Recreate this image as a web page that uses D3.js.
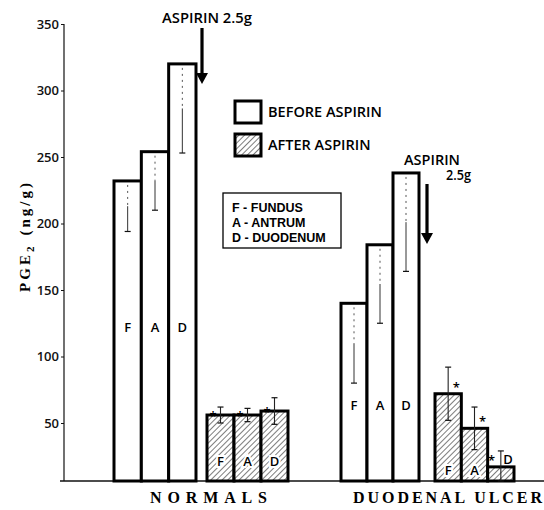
<!DOCTYPE html>
<html lang="en">
<head>
    <meta charset="UTF-8">
    <title>PGE2 before and after aspirin</title>
    <script src="https://d3js.org/d3.v7.min.js"></script>
    <style>
        body { margin: 0; background: #fff; }
        .sans { font-family: "Open Sans", sans-serif; font-weight: 600; }
        .serif { font-family: "Liberation Serif", serif; font-weight: bold; }
    </style>
</head>
<body>
    <svg width="544" height="510"></svg>
    <script>
        // Data
        const groups = ["NORMALS", "DUODENAL ULCER"];
        const sites = ["F", "A", "D"];
        const normalsBefore = [232, 254, 320];
        const normalsBeforeSD = [38, 44, 67];
        const normalsAfter = [56, 56, 59];
        const normalsAfterSD = [6, 5, 10];
        const ulcerBefore = [140, 184, 238];
        const ulcerBeforeSD = [60, 59, 74];
        const ulcerAfter = [72, 46, 17];
        const ulcerAfterSD = [20, 16, 12];
        const yTicks = [50, 100, 150, 200, 250, 300, 350];
        const keyLines = ["F - FUNDUS", "A - ANTRUM", "D - DUODENUM"];

        const svg = d3.select("svg");

        // Scales
        const y = d3.scaleLinear().domain([0, 350]).range([489.5, 24]);
        const baseY = 481;
        const axisX = 64;

        // Defs: hatch pattern
        const defs = svg.append("defs");
        const pat = defs.append("pattern")
            .attr("id", "hatch")
            .attr("patternUnits", "userSpaceOnUse")
            .attr("width", 4).attr("height", 4)
            .attr("patternTransform", "rotate(45)");
        pat.append("rect").attr("width", 4).attr("height", 4).attr("fill", "#fff");
        pat.append("line")
            .attr("x1", 0).attr("y1", 0).attr("x2", 0).attr("y2", 4)
            .attr("stroke", "#111").attr("stroke-width", 1.1);

        // Y axis
        const yAxis = d3.axisLeft(y).tickValues(yTicks).tickSize(3).tickPadding(2);
        const ga = svg.append("g")
            .attr("transform", `translate(${axisX},0)`)
            .call(yAxis);
        ga.select(".domain").remove();
        ga.selectAll("line").attr("stroke", "#111");
        ga.selectAll("text")
            .attr("class", "sans")
            .attr("font-size", 13)
            .attr("font-weight", 500)
            .attr("fill", "#111");
        svg.append("line")
            .attr("x1", axisX).attr("x2", axisX)
            .attr("y1", y(350)).attr("y2", baseY)
            .attr("stroke", "#111").attr("stroke-width", 1.2);

        // Baseline
        svg.append("line")
            .attr("x1", 60).attr("x2", 544)
            .attr("y1", baseY).attr("y2", baseY)
            .attr("stroke", "#111").attr("stroke-width", 1.5);

        // Clusters
        const clusters = [
            { vals: normalsBefore, sd: normalsBeforeSD, range: [114, 196], after: false, labelY: 332 },
            { vals: normalsAfter, sd: normalsAfterSD, range: [207, 288], after: true, labelY: 466 },
            { vals: ulcerBefore, sd: ulcerBeforeSD, range: [341, 419], after: false, labelY: 410 },
            { vals: ulcerAfter, sd: ulcerAfterSD, range: [435, 514], after: true, labelY: 475 }
        ];

        clusters.forEach((c, ci) => {
            const x = d3.scaleBand().domain(sites).range(c.range).padding(0);
            const g = svg.append("g");
            sites.forEach((s, i) => {
                const v = c.vals[i];
                const x0 = x(s), w = x.bandwidth(), cx = x0 + w / 2;
                g.append("rect")
                    .attr("x", x0).attr("y", y(v))
                    .attr("width", w).attr("height", baseY - y(v))
                    .attr("fill", c.after ? "url(#hatch)" : "#fff")
                    .attr("stroke", "#000")
                    .attr("stroke-width", 3);

                // error bars
                const lo = y(Math.max(v - c.sd[i], 0)), hi = y(v + c.sd[i]);
                if (!c.after) {
                    const mid = (y(v) + lo) / 2;
                    g.append("line")
                        .attr("x1", cx).attr("x2", cx)
                        .attr("y1", y(v) + 4).attr("y2", mid)
                        .attr("stroke", "#555").attr("stroke-width", 1)
                        .attr("stroke-dasharray", "2,4");
                    g.append("line")
                        .attr("x1", cx).attr("x2", cx)
                        .attr("y1", mid).attr("y2", lo)
                        .attr("stroke", "#333").attr("stroke-width", 1);
                    g.append("line")
                        .attr("x1", cx - 3).attr("x2", cx + 3)
                        .attr("y1", lo).attr("y2", lo)
                        .attr("stroke", "#111").attr("stroke-width", 1.2);
                } else {
                    const loY = Math.min(lo, baseY);
                    g.append("line")
                        .attr("x1", cx).attr("x2", cx)
                        .attr("y1", hi).attr("y2", loY)
                        .attr("stroke", "#222").attr("stroke-width", 1.1);
                    [hi, loY].forEach(yy => g.append("line")
                        .attr("x1", cx - 3).attr("x2", cx + 3)
                        .attr("y1", yy).attr("y2", yy)
                        .attr("stroke", "#111").attr("stroke-width", 1.2));
                }

                // asterisks
                if (c.after) {
                    let ax, ay;
                    if (ci === 1) { ax = x0 + 6; ay = y(v) + 6; }
                    else if (i < 2) { ax = x0 + w - 5; ay = y(v) - 2; }
                    else { ax = x0 + 4; ay = y(v) - 2; }
                    g.append("text")
                        .attr("class", "sans")
                        .attr("x", ax).attr("y", ay)
                        .attr("text-anchor", "middle")
                        .attr("font-size", 13)
                        .text("*");
                }

                // site letters
                const lbl = g.append("text")
                    .attr("class", "sans")
                    .attr("font-size", 13)
                    .attr("text-anchor", "middle")
                    .text(s);
                if (ci === 3 && i === 2) {
                    lbl.attr("x", x0 + w - 6).attr("y", y(v) - 3);
                } else {
                    lbl.attr("x", cx).attr("y", c.labelY);
                    if (c.after) {
                        lbl.attr("stroke", "#fff").attr("stroke-width", 4)
                            .attr("paint-order", "stroke");
                    }
                }
            });
        });

        // Aspirin arrows
        function arrow(x, y1, y2) {
            svg.append("line")
                .attr("x1", x).attr("x2", x)
                .attr("y1", y1).attr("y2", y2 - 8)
                .attr("stroke", "#000").attr("stroke-width", 3.2);
            svg.append("path")
                .attr("d", `M${x - 6},${y2 - 11}L${x + 6},${y2 - 11}L${x},${y2}Z`)
                .attr("fill", "#000");
        }
        arrow(202, 28, 84);
        arrow(427, 184, 244);
        svg.append("text").attr("class", "sans")
            .attr("x", 162).attr("y", 23).attr("font-size", 13.5)
            .attr("textLength", 90).attr("lengthAdjust", "spacingAndGlyphs")
            .text("ASPIRIN 2.5g");
        svg.append("text").attr("class", "sans")
            .attr("x", 404).attr("y", 165).attr("font-size", 13.5)
            .attr("textLength", 56).attr("lengthAdjust", "spacingAndGlyphs")
            .text("ASPIRIN");
        svg.append("text").attr("class", "sans")
            .attr("x", 446).attr("y", 180).attr("font-size", 13.5)
            .attr("textLength", 25).attr("lengthAdjust", "spacingAndGlyphs")
            .text("2.5g");

        // Legend
        const legend = [
            { label: "BEFORE ASPIRIN", fill: "#fff", yy: 101 },
            { label: "AFTER ASPIRIN", fill: "url(#hatch)", yy: 134 }
        ];
        legend.forEach(d => {
            svg.append("rect")
                .attr("x", 235).attr("y", d.yy)
                .attr("width", 26).attr("height", 22)
                .attr("fill", d.fill).attr("stroke", "#000").attr("stroke-width", 3);
            svg.append("text").attr("class", "sans")
                .attr("x", 268).attr("y", d.yy + 16)
                .attr("font-size", 14.5)
                .text(d.label);
        });

        // Site key box
        svg.append("rect")
            .attr("x", 223).attr("y", 193)
            .attr("width", 118).attr("height", 55)
            .attr("fill", "#fff").attr("stroke", "#000").attr("stroke-width", 1.3);
        keyLines.forEach((t, i) => {
            svg.append("text")
                .attr("x", 232).attr("y", 212 + i * 15)
                .attr("font-family", "'Liberation Sans', Arial, sans-serif")
                .attr("font-weight", "bold")
                .attr("font-size", 12.5)
                .text(t);
        });

        // Group labels
        svg.append("text").attr("class", "serif")
            .attr("x", 150).attr("y", 503).attr("font-size", 16)
            .attr("textLength", 117).attr("lengthAdjust", "spacing")
            .text(groups[0]);
        svg.append("text").attr("class", "serif")
            .attr("x", 353).attr("y", 503).attr("font-size", 16)
            .attr("textLength", 189).attr("lengthAdjust", "spacing")
            .text(groups[1]);

        // Y axis title
        const yt = svg.append("text").attr("class", "serif")
            .attr("transform", "translate(30,236) rotate(-90)")
            .attr("text-anchor", "middle")
            .attr("letter-spacing", 3)
            .attr("font-size", 15);
        yt.append("tspan").text("PGE");
        yt.append("tspan").attr("font-size", 11).attr("dy", 4).text("2");
        yt.append("tspan").attr("dy", -4).attr("dx", 8).text("(ng/g)");
    </script>
</body>
</html>
